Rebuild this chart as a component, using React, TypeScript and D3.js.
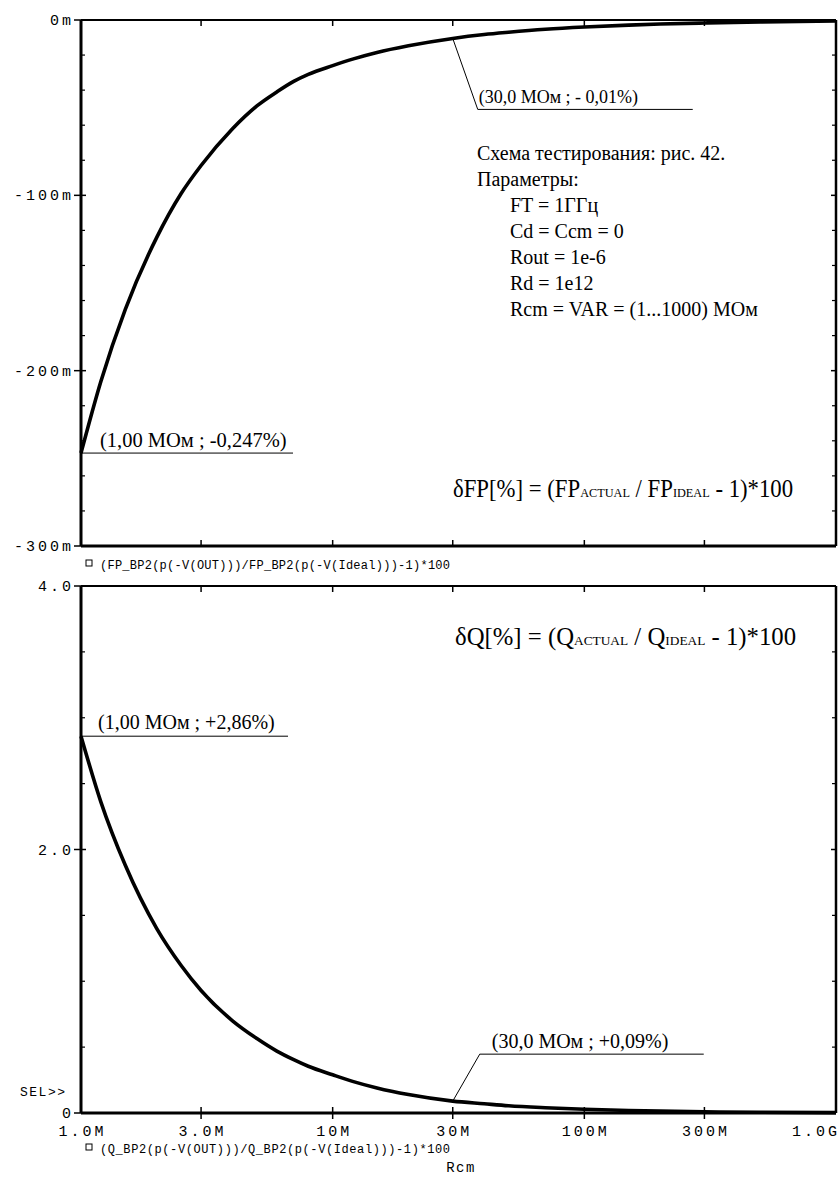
import React from "react";
import * as d3 from "d3";

// Rcm values (MOhm) sampled along the curves
const rcm = [1, 1.2, 1.5, 2, 2.5, 3, 4, 5, 6, 7, 8, 10, 12, 15, 20, 30, 40, 50, 70, 100, 150, 200, 300, 500, 1000];
// delta FP, percent (axis shown in milli-percent "m")
const fpErr = [-0.247, -0.206, -0.165, -0.124, -0.099, -0.083, -0.062, -0.049, -0.041, -0.035, -0.031, -0.026, -0.0223, -0.0185, -0.0147, -0.0105, -0.0083, -0.007, -0.0053, -0.004, -0.0029, -0.0023, -0.0017, -0.0011, -0.0006];
// delta Q, percent
const qErr = [2.86, 2.36, 1.88, 1.4, 1.12, 0.93, 0.7, 0.565, 0.47, 0.405, 0.355, 0.29, 0.24, 0.19, 0.14, 0.09, 0.07, 0.055, 0.04, 0.028, 0.019, 0.014, 0.009, 0.006, 0.003];

const xTickValues = [1, 3, 10, 30, 100, 300, 1000];
const xTickLabels = ["1.0M", "3.0M", "10M", "30M", "100M", "300M", "1.0G"];
const fpTicks = [0, -0.1, -0.2, -0.3];
const fpTickLabels = ["0m", "-100m", "-200m", "-300m"];
const qTicks = [4, 2, 0];
const qTickLabels = ["4.0", "2.0", "0"];

const textLines = [
  "Схема тестирования: рис. 42.",
  "Параметры:",
  "FT = 1ГГц",
  "Cd = Ccm = 0",
  "Rout = 1e-6",
  "Rd = 1e12",
  "Rcm = VAR = (1...1000) МОм",
];

const legendTop = "(FP_BP2(p(-V(OUT)))/FP_BP2(p(-V(Ideal)))-1)*100";
const legendBottom = "(Q_BP2(p(-V(OUT)))/Q_BP2(p(-V(Ideal)))-1)*100";

const W = 839;
const H = 1184;
const L = 81;
const R = 836;
const top1 = 20, bot1 = 546;
const top2 = 586, bot2 = 1113;

const mono = "'Liberation Mono', 'DejaVu Sans Mono', monospace";
const serif = "'Liberation Serif', 'Times New Roman', serif";

export default function App() {
  const x = d3.scaleLog().domain([1, 1000]).range([L, R]);
  const y1 = d3.scaleLinear().domain([-0.3, 0]).range([bot1, top1]);
  const y2 = d3.scaleLinear().domain([0, 4]).range([bot2, top2]);

  const line1 = d3
    .line<number>()
    .x((_, i) => x(rcm[i]))
    .y((d) => y1(d))
    .curve(d3.curveMonotoneX);
  const line2 = d3
    .line<number>()
    .x((_, i) => x(rcm[i]))
    .y((d) => y2(d))
    .curve(d3.curveMonotoneX);

  const fpMinor = d3.range(0, -0.3001, -0.02).filter((v) => Math.abs(Math.round(v * 10) - v * 10) > 1e-6);
  const qMinor = d3.range(0, 4.001, 0.5).filter((v) => Math.abs(v % 2) > 1e-6);

  const frame = (t: number, b: number) => (
    <g>
      <line x1={L} x2={R} y1={t} y2={t} stroke="#000" strokeWidth={2} />
      <line x1={R} x2={R} y1={t} y2={b} stroke="#000" strokeWidth={2.5} />
      <line x1={L} x2={L} y1={t} y2={b} stroke="#000" strokeWidth={3} />
      <line x1={L} x2={R} y1={b} y2={b} stroke="#000" strokeWidth={3} />
    </g>
  );

  const xTicks = (t: number, b: number, cross: boolean) =>
    xTickValues.slice(1, -1).map((v) => (
      <g key={v}>
        <line x1={x(v)} x2={x(v)} y1={t} y2={t + 6} stroke="#000" strokeWidth={1.5} />
        <line x1={x(v)} x2={x(v)} y1={b - 6} y2={cross ? b + 6 : b} stroke="#000" strokeWidth={1.5} />
      </g>
    ));

  const fp1 = { x: x(1), y: y1(fpErr[0]) };
  const fp30 = { x: x(30), y: y1(fpErr[rcm.indexOf(30)]) };
  const q1 = { x: x(1), y: y2(qErr[0]) };
  const q30 = { x: x(30), y: y2(qErr[rcm.indexOf(30)]) };

  const small = 13.5;
  const big = 25;
  const tickFont = { fontFamily: mono, fontSize: 15, letterSpacing: 3 } as const;

  return (
    <svg width={W} height={H} style={{ position: "absolute", left: 0, top: 0, background: "#fff" }}>
      <rect width={W} height={H} fill="#fff" />
      {/* ---------- top plot ---------- */}
      {frame(top1, bot1)}
      {xTicks(top1, bot1, false)}
      {fpTicks.map((v, i) => (
        <g key={v}>
          <line x1={L - 7} x2={L + 5} y1={y1(v)} y2={y1(v)} stroke="#000" strokeWidth={1.5} />
          <line x1={R - 5} x2={R} y1={y1(v)} y2={y1(v)} stroke="#000" strokeWidth={1.5} />
          <text x={L - 7} y={y1(v) + 5} textAnchor="end" {...tickFont}>
            {fpTickLabels[i]}
          </text>
        </g>
      ))}
      {fpMinor.map((v) => (
        <g key={v}>
          <line x1={L} x2={L + 4} y1={y1(v)} y2={y1(v)} stroke="#000" strokeWidth={1.2} />
          <line x1={R - 4} x2={R} y1={y1(v)} y2={y1(v)} stroke="#000" strokeWidth={1.2} />
        </g>
      ))}
      <path d={line1(fpErr) || ""} fill="none" stroke="#000" strokeWidth={3.6} />

      {/* annotations top */}
      <polyline points={`${fp1.x},${fp1.y} ${fp1.x + 212},${fp1.y}`} fill="none" stroke="#000" strokeWidth={1} />
      <text x={fp1.x + 19} y={fp1.y - 6} fontFamily={serif} fontSize={20.5}>
        (1,00 МОм ; -0,247%)
      </text>
      <polyline
        points={`${fp30.x},${fp30.y} ${fp30.x + 25},${fp30.y + 71} ${fp30.x + 240},${fp30.y + 71}`}
        fill="none"
        stroke="#000"
        strokeWidth={1}
      />
      <text x={fp30.x + 26} y={fp30.y + 65} fontFamily={serif} fontSize={18}>
        (30,0 МОм ; - 0,01%)
      </text>

      {textLines.map((t, i) => (
        <text key={i} x={i < 2 ? 477 : 510} y={160 + i * 26} fontFamily={serif} fontSize={20}>
          {t}
        </text>
      ))}

      <g transform="translate(453,497) scale(0.91,1)">
        <text x={0} y={0} fontFamily={serif} fontSize={big}>
          δFP[%] = (FP<tspan fontSize={small}>ACTUAL</tspan> / FP<tspan fontSize={small}>IDEAL</tspan> - 1)*100
        </text>
      </g>

      {/* legend top */}
      <rect x={86} y={560} width={6} height={6} fill="none" stroke="#000" strokeWidth={1} />
      <text x={100} y={569} fontFamily={mono} fontSize={12} textLength={350} lengthAdjust="spacing">
        {legendTop}
      </text>

      {/* ---------- bottom plot ---------- */}
      {frame(top2, bot2)}
      {xTicks(top2, bot2, true)}
      {qTicks.map((v, i) => (
        <g key={v}>
          <line x1={L - 7} x2={L + 5} y1={y2(v)} y2={y2(v)} stroke="#000" strokeWidth={1.5} />
          <line x1={R - 5} x2={R} y1={y2(v)} y2={y2(v)} stroke="#000" strokeWidth={1.5} />
          <text x={L - 7} y={y2(v) + 5} textAnchor="end" {...tickFont}>
            {qTickLabels[i]}
          </text>
        </g>
      ))}
      {qMinor.map((v) => (
        <g key={v}>
          <line x1={L} x2={L + 4} y1={y2(v)} y2={y2(v)} stroke="#000" strokeWidth={1.2} />
          <line x1={R - 4} x2={R} y1={y2(v)} y2={y2(v)} stroke="#000" strokeWidth={1.2} />
        </g>
      ))}
      <path d={line2(qErr) || ""} fill="none" stroke="#000" strokeWidth={3.6} />

      <polyline points={`${q1.x},${q1.y} ${q1.x + 207},${q1.y}`} fill="none" stroke="#000" strokeWidth={1} />
      <text x={q1.x + 17} y={q1.y - 7} fontFamily={serif} fontSize={20}>
        (1,00 МОм ; +2,86%)
      </text>
      <polyline
        points={`${q30.x},${q30.y} ${q30.x + 27},${q30.y - 47} ${q30.x + 251},${q30.y - 47}`}
        fill="none"
        stroke="#000"
        strokeWidth={1}
      />
      <text x={q30.x + 39} y={q30.y - 53} fontFamily={serif} fontSize={20}>
        (30,0 МОм ; +0,09%)
      </text>

      <g transform="translate(455,645) scale(0.99,1)">
        <text x={0} y={0} fontFamily={serif} fontSize={big}>
          δQ[%] = (Q<tspan fontSize={small}>ACTUAL</tspan> / Q<tspan fontSize={small}>IDEAL</tspan> - 1)*100
        </text>
      </g>

      <text x={20} y={1096} fontFamily={mono} fontSize={13} letterSpacing={1.5}>
        SEL&gt;&gt;
      </text>

      {xTickValues.map((v, i) => {
        const last = i === xTickValues.length - 1;
        return (
          <text
            key={v}
            x={last ? x(v) + 4 : x(v) + 1.5}
            y={1136}
            textAnchor={last ? "end" : "middle"}
            {...tickFont}
          >
            {xTickLabels[i]}
          </text>
        );
      })}
      <rect x={86} y={1144} width={6} height={6} fill="none" stroke="#000" strokeWidth={1} />
      <text x={100} y={1153} fontFamily={mono} fontSize={12} textLength={350} lengthAdjust="spacing">
        {legendBottom}
      </text>
      <text x={461} y={1172} textAnchor="middle" fontFamily={mono} fontSize={14} letterSpacing={1.5}>
        Rcm
      </text>
    </svg>
  );
}
